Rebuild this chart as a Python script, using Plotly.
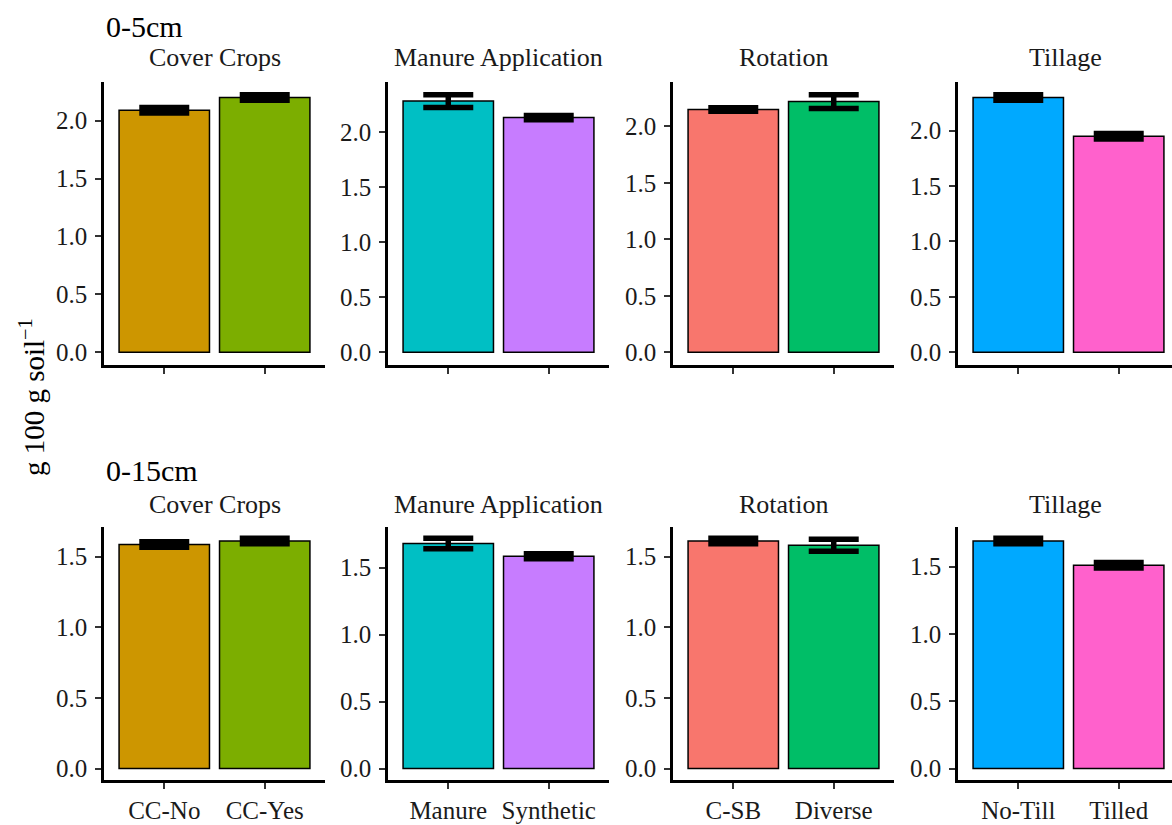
import plotly.graph_objects as go

# ---- data -------------------------------------------------------------
depths = ["0-5cm", "0-15cm"]
practices = ["Cover Crops", "Manure Application", "Rotation", "Tillage"]
levels = [["CC-No", "CC-Yes"], ["Manure", "Synthetic"], ["C-SB", "Diverse"], ["No-Till", "Tilled"]]
level_colors = [["#CD9600", "#7CAE00"], ["#00BFC4", "#C77CFF"],
                ["#F8766D", "#00BE67"], ["#00A9FF", "#FF61CC"]]

mean_0_5 = [[2.09, 2.20], [2.28, 2.13], [2.15, 2.22], [2.30, 1.95]]
se_0_5 = [[0.024, 0.024], [0.058, 0.020], [0.016, 0.061], [0.025, 0.024]]
mean_0_15 = [[1.585, 1.61], [1.68, 1.585], [1.61, 1.58], [1.69, 1.51]]
se_0_15 = [[0.0195, 0.0195], [0.039, 0.019], [0.0195, 0.043], [0.0205, 0.0205]]

means = [mean_0_5, mean_0_15]
ses = [se_0_5, se_0_15]

# ---- page geometry (pixels) ------------------------------------------
W, H = 1172, 825
col_px = [(104, 325), (388, 609), (673, 894), (958, 1172)]
row_px = [(82, 366), (528, 782)]
row_title_y = [27, 472]
strip_y = [58, 506]
unit_px = (col_px[0][1] - col_px[0][0]) / 2.2   # 0.9-wide bars, 0.6 padding each side

FONT = "Liberation Serif, Times New Roman, serif"
TXT = "#1a1a1a"
TICK_SIZE = 25
STRIP_SIZE = 26

fig = go.Figure()
layout = dict(
    width=W, height=H,
    margin=dict(l=0, r=0, t=0, b=0),
    paper_bgcolor="white", plot_bgcolor="white",
    showlegend=False,
    font=dict(family=FONT, color=TXT),
)
annotations = []

k = 0
for r in range(2):
    for c in range(4):
        k += 1
        xa = "x" if k == 1 else f"x{k}"
        ya = "y" if k == 1 else f"y{k}"
        m = means[r][c]
        s = ses[r][c]
        fig.add_trace(go.Bar(
            x=levels[c], y=m, width=0.9,
            marker=dict(color=level_colors[c], line=dict(color="black", width=1.5)),
            error_y=dict(type="data", array=s, visible=True, color="black",
                         thickness=5.5, width=25),
            xaxis=xa, yaxis=ya, hoverinfo="skip",
        ))

        # free y scale with 5 % expansion on both ends
        top = max(mi + si for mi, si in zip(m, s))
        lo, hi = -0.05 * top, top * 1.05

        x0, x1 = col_px[c]
        y0, y1 = row_px[r]
        xr = [-0.6, -0.6 + (x1 - x0) / unit_px]

        layout["xaxis" if k == 1 else f"xaxis{k}"] = dict(
            domain=[x0 / W, x1 / W], anchor=ya, type="category",
            categoryorder="array", categoryarray=levels[c], range=xr,
            showline=True, linecolor="black", linewidth=2.5,
            ticks="outside", ticklen=6, tickwidth=2, tickcolor="#333333",
            showticklabels=(r == 1),
            tickfont=dict(family=FONT, size=TICK_SIZE, color=TXT),
            showgrid=False, zeroline=False, fixedrange=True,
        )
        layout["yaxis" if k == 1 else f"yaxis{k}"] = dict(
            domain=[1 - y1 / H, 1 - y0 / H], anchor=xa, range=[lo, hi],
            dtick=0.5, tick0=0, tickformat=".1f",
            showline=True, linecolor="black", linewidth=2.5,
            ticks="outside", ticklen=6, tickwidth=2, tickcolor="#333333",
            ticklabelstandoff=3,
            tickfont=dict(family=FONT, size=TICK_SIZE, color=TXT),
            showgrid=False, zeroline=False, fixedrange=True,
        )

        # facet strip title
        annotations.append(dict(
            text=practices[c], x=(x0 + x1) / 2 / W, y=1 - strip_y[r] / H,
            xref="paper", yref="paper", xanchor="center", yanchor="middle",
            showarrow=False, font=dict(family=FONT, size=STRIP_SIZE, color=TXT),
        ))

    # depth title for the row
    annotations.append(dict(
        text=depths[r], x=col_px[0][0] / W, y=1 - row_title_y[r] / H,
        xref="paper", yref="paper", xanchor="left", yanchor="middle",
        showarrow=False, font=dict(family=FONT, size=30, color="black"),
    ))

# shared y-axis title
annotations.append(dict(
    text="g 100 g soil<sup>\u22121</sup>", x=32 / W, y=1 - 398 / H,
    xref="paper", yref="paper", xanchor="center", yanchor="middle",
    textangle=-90, showarrow=False, font=dict(family=FONT, size=29, color="black"),
))

layout["annotations"] = annotations
fig.update_layout(**layout)
fig.write_html("out.html", config={"displayModeBar": False})
